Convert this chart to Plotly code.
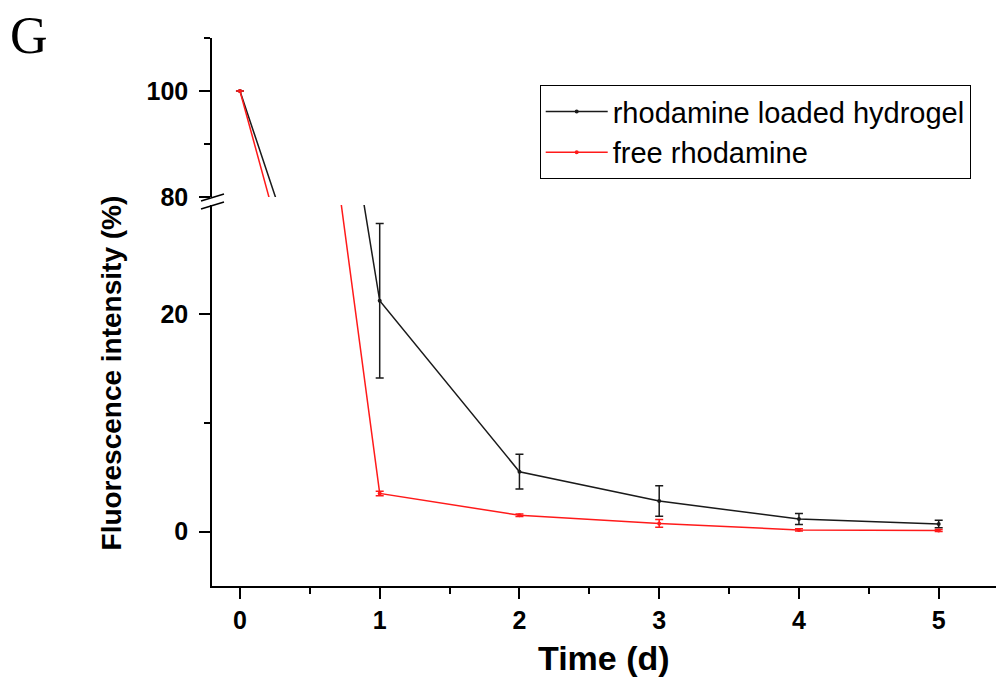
import plotly.graph_objects as go

# ---- data ----
days = [0, 1, 2, 3, 4, 5]
day_labels = ["0", "1", "2", "3", "4", "5"]
hydrogel = [100, 21.2, 5.5, 2.8, 1.15, 0.7]
hydrogel_err = [0, 7.1, 1.6, 1.4, 0.5, 0.35]
free_rho = [100, 3.5, 1.5, 0.75, 0.15, 0.1]
free_err = [0, 0.2, 0.12, 0.35, 0.1, 0.1]

lower_ticks = [0, 20]
lower_minor = [10]
upper_ticks = [80, 100]
upper_minor = [90, 110]

BLACK = "#1a1a1a"
RED = "#ff1a1a"
FONT = "Liberation Sans, Arial, sans-serif"

fig = go.Figure()
for yax, show in (("y", True), ("y2", False)):
    fig.add_trace(go.Scatter(
        x=days, y=hydrogel, yaxis=yax, showlegend=show, legendgroup="h",
        name="rhodamine loaded hydrogel", mode="lines+markers",
        line=dict(color=BLACK, width=1.5), marker=dict(size=4, color=BLACK),
        error_y=dict(type="data", array=hydrogel_err, visible=True,
                     color=BLACK, thickness=1.5, width=4)))
    fig.add_trace(go.Scatter(
        x=days, y=free_rho, yaxis=yax, showlegend=show, legendgroup="f",
        name="free rhodamine", mode="lines+markers",
        line=dict(color=RED, width=1.5), marker=dict(size=4, color=RED),
        error_y=dict(type="data", array=free_err, visible=True,
                     color=RED, thickness=1.5, width=4)))

axis_common = dict(
    showline=True, linecolor="black", linewidth=1.5, mirror=False,
    ticks="outside", ticklen=11, tickwidth=1.5, tickcolor="black",
    showgrid=False, zeroline=False,
    tickfont=dict(family=FONT, size=25, color="black", weight="bold"),
)
minor_common = dict(ticks="outside", ticklen=6, tickwidth=1.5,
                    tickcolor="black", showgrid=False)

fig.update_layout(
    width=988, height=671,
    margin=dict(l=204, r=0, t=30, b=93),
    paper_bgcolor="white", plot_bgcolor="white",
    xaxis=dict(range=[-0.2, 5.41], anchor="y", tickvals=days, ticktext=day_labels,
               minor=dict(tickvals=[0.5, 1.5, 2.5, 3.5, 4.5], **minor_common),
               **axis_common),
    yaxis=dict(domain=[0, 0.6953], range=[-5, 30], anchor="x",
               tickvals=lower_ticks, ticktext=[str(v) for v in lower_ticks],
               ticklabelstandoff=6,
               minor=dict(tickvals=lower_minor, **minor_common), **axis_common),
    yaxis2=dict(domain=[0.7099, 1], range=[80, 110], anchor="x",
                tickvals=upper_ticks, ticktext=[str(v) for v in upper_ticks],
                ticklabelstandoff=6,
                minor=dict(tickvals=upper_minor, **minor_common), **axis_common),
    legend=dict(x=0.418, y=0.914, xanchor="left", yanchor="top",
                bordercolor="black", borderwidth=1, bgcolor="white",
                font=dict(family=FONT, size=29, color="black"),
                tracegroupgap=0, itemwidth=62),
    showlegend=True,
)

annotations = [
    dict(text="Time (d)", x=0.5, y=-0.1697, xref="paper", yref="paper",
         xanchor="center", yanchor="bottom", showarrow=False,
         font=dict(family=FONT, size=34, color="black", weight="bold")),
    dict(text="Fluorescence intensity (%)", x=-0.128, y=0.389, xref="paper", yref="paper",
         xanchor="center", yanchor="middle", showarrow=False, textangle=-90,
         font=dict(family=FONT, size=28, color="black", weight="bold")),
    dict(text="G", x=-0.234, y=1.005, xref="paper", yref="paper",
         xanchor="center", yanchor="middle", showarrow=False,
         font=dict(family="Liberation Serif, Times New Roman, serif", size=52, color="black")),
]
fig.update_layout(annotations=annotations)

# axis break marks
for y0, y1 in ((0.7026, 0.7153), (0.6880, 0.7007)):
    fig.add_shape(type="line", xref="paper", yref="paper",
                  x0=-0.0140, x1=0.0153, y0=y0, y1=y1,
                  line=dict(color="black", width=1.5))

fig.write_html("out.html")
